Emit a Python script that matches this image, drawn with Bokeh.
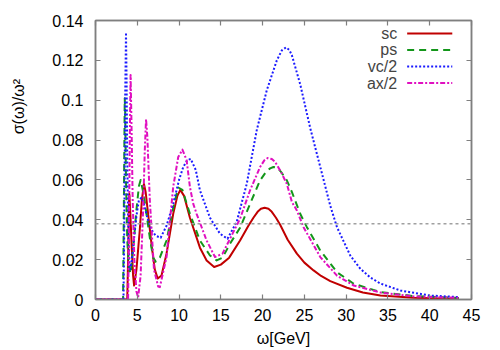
from bokeh.plotting import figure
from bokeh.models import LinearAxis, FixedTicker, Span, Label, Range1d
from bokeh.embed import file_html
from bokeh.resources import INLINE

# ---------------- data ----------------
sc_w = [0, 3.8, 3.9, 4.0, 4.05, 4.15, 4.35, 4.5, 4.62, 4.9, 5.3, 5.55, 5.8, 6.0,
        6.35, 6.75, 7.1, 7.45, 7.9, 8.5, 9.3, 9.8, 10.15, 10.6, 11.3, 12.5, 13.3,
        14.2, 15.0, 16.0, 17.3, 18.3, 18.9, 19.4, 19.8, 20.25, 20.7, 21.1, 21.6,
        22.1, 23.0, 24.1, 25.0, 26.1, 27.0, 28.1, 30.1, 32.0, 34.1, 38.1, 43.5]
sc_v = [0, 0, 0.02, 0.048, 0.053, 0.045, 0.025, 0.012, 0.007, 0.015, 0.035, 0.050,
        0.058, 0.054, 0.041, 0.026, 0.015, 0.0105, 0.012, 0.023, 0.043, 0.052,
        0.055, 0.052, 0.041, 0.026, 0.0196, 0.0163, 0.0175, 0.021, 0.0296, 0.037,
        0.041, 0.0440, 0.0455, 0.046, 0.0455, 0.0440, 0.0410, 0.0375, 0.030,
        0.023, 0.0185, 0.0146, 0.0118, 0.0092, 0.0059, 0.0035, 0.002, 0.0009,
        0.0003]

ps_w = [0, 3.3, 3.4, 3.5, 3.55, 3.65, 3.8, 4.0, 4.2, 4.5, 4.9, 5.2, 5.4, 5.75,
        6.1, 6.5, 6.9, 7.2, 7.7, 8.5, 9.3, 9.9, 10.4, 11.3, 12.5, 13.7, 14.5,
        15.2, 16.1, 17.3, 18.5, 19.7, 20.4, 20.9, 21.3, 21.8, 22.3, 22.9, 23.5,
        24.5, 25.3, 26.9, 28.9, 30.9, 34.1, 38.1, 43.5]
ps_v = [0, 0, 0.05, 0.101, 0.095, 0.06, 0.03, 0.016, 0.013, 0.025, 0.045, 0.057,
        0.060, 0.053, 0.043, 0.031, 0.021, 0.019, 0.021, 0.0296, 0.046, 0.0562,
        0.055, 0.043, 0.0296, 0.0221, 0.0196, 0.021, 0.028, 0.036, 0.048, 0.0598,
        0.0640, 0.0658, 0.0665, 0.0660, 0.0635, 0.0598, 0.054, 0.043, 0.0363,
        0.0246, 0.0137, 0.0079, 0.0037, 0.0017, 0.0008]

vc_w = [0, 3.35, 3.45, 3.55, 3.65, 3.72, 3.8, 3.95, 4.1, 4.3, 4.6, 4.9, 5.2, 5.5,
        5.8, 6.2, 6.7, 7.2, 7.8, 8.5, 9.3, 10.0, 10.5, 11.0, 11.4, 12.0, 12.5,
        13.7, 14.9, 15.8, 16.9, 18.1, 19.3, 20.5, 21.7, 22.3, 22.8, 23.2, 23.5,
        24.5, 25.7, 26.9, 28.1, 28.9, 30.5, 31.7, 32.9, 34.1, 36.5, 40.0, 43.5]
vc_v = [0, 0, 0.04, 0.10, 0.134, 0.11, 0.07, 0.03, 0.015, 0.018, 0.030, 0.042,
        0.050, 0.051, 0.048, 0.041, 0.035, 0.032, 0.031, 0.037, 0.048, 0.060,
        0.0665, 0.0700, 0.0705, 0.065, 0.0548, 0.041, 0.033, 0.0305, 0.039,
        0.058, 0.085, 0.105, 0.120, 0.1250, 0.1265, 0.1252, 0.1226, 0.108,
        0.086, 0.0665, 0.047, 0.0363, 0.022, 0.0154, 0.011, 0.008, 0.0045,
        0.002, 0.0012]

ax_w = [0, 3.9, 4.0, 4.1, 4.2, 4.3, 4.45, 4.65, 4.9, 5.1, 5.4, 5.7, 5.9, 6.05,
        6.2, 6.5, 7.0, 7.5, 7.7, 8.5, 9.3, 9.9, 10.4, 10.9, 11.3, 11.7, 12.1,
        13.3, 14.3, 15.2, 16.1, 17.3, 18.5, 19.7, 20.2, 20.6, 21.1, 21.5, 22.2,
        22.9, 23.5, 24.1, 24.9, 26.9, 28.9, 30.9, 34.1, 38.1, 43.5]
ax_v = [0, 0, 0.03, 0.08, 0.1126, 0.09, 0.05, 0.02, 0.004, 0.001, 0.012, 0.045,
        0.075, 0.0905, 0.082, 0.05, 0.015, 0.0065, 0.0062, 0.0213, 0.0565, 0.0715,
        0.0752, 0.070, 0.0565, 0.048, 0.043, 0.0296, 0.0213, 0.023, 0.0305, 0.0405,
        0.0548, 0.0665, 0.0698, 0.0710, 0.0705, 0.0690, 0.0640, 0.058, 0.049,
        0.0447, 0.0363, 0.0213, 0.012, 0.007, 0.0035, 0.0015, 0.0008]

threshold = 0.038

series_names = ["sc", "ps", "vc/2", "ax/2"]
x_ticks = [0, 5, 10, 15, 20, 25, 30, 35, 40, 45]
x_tick_labels = ["0", "5", "10", "15", "20", "25", "30", "35", "40", "45"]
y_ticks = [0, 0.02, 0.04, 0.06, 0.08, 0.1, 0.12, 0.14]
y_tick_labels = ["0", "0.02", "0.04", "0.06", "0.08", "0.1", "0.12", "0.14"]
x_title = "ω[GeV]"
y_title = "σ(ω)/ω²"

# ---------------- styles ----------------
FONT = "Liberation Sans"
FS = "16px"
styles = [
    dict(color="#c00000", dash="solid"),
    dict(color="#13961a", dash="7 5"),
    dict(color="#1a1aff", dash="2 2"),
    dict(color="#e010c0", dash="5 2 2 2"),
]
FRAME_COLOR = "#7f7f7f"
YLABEL_SHIFT = "\u00a0" * 24   # pushes the rotated y title up, like the reference

p = figure(width=500, height=350, output_backend="svg", toolbar_location=None,
           x_range=Range1d(0, 45), y_range=Range1d(0, 0.14),
           min_border_left=95, min_border_right=29, min_border_top=20,
           min_border_bottom=51, x_axis_label=x_title,
           y_axis_label=YLABEL_SHIFT + y_title)
p.background_fill_color = "white"
p.border_fill_color = "white"
p.outline_line_color = FRAME_COLOR
p.outline_line_width = 1.5
p.xgrid.visible = False
p.ygrid.visible = False

def style_axis(ax, ticks, labels, show_labels):
    ax.ticker = FixedTicker(ticks=ticks)
    ax.major_label_overrides = {t: (l if show_labels else "") for t, l in zip(ticks, labels)}
    ax.major_tick_in = 5
    ax.major_tick_out = 0
    ax.minor_tick_line_color = None
    ax.major_tick_line_color = FRAME_COLOR
    ax.major_tick_line_width = 1.2
    ax.axis_line_color = FRAME_COLOR
    ax.axis_line_width = 1.5
    ax.major_label_text_font = FONT
    ax.major_label_text_font_size = FS
    ax.major_label_text_color = "black"
    ax.axis_label_text_font = FONT
    ax.axis_label_text_font_size = FS
    ax.axis_label_text_font_style = "normal"
    ax.axis_label_text_color = "black"

style_axis(p.xaxis[0], x_ticks, x_tick_labels, True)
style_axis(p.yaxis[0], y_ticks, y_tick_labels, True)
p.xaxis[0].major_label_standoff = 9
p.yaxis[0].major_label_standoff = 12
p.xaxis[0].axis_label_standoff = 6
p.yaxis[0].axis_label_standoff = 22

top = LinearAxis()
right = LinearAxis()
style_axis(top, x_ticks, x_tick_labels, False)
style_axis(right, y_ticks, y_tick_labels, False)
top.major_label_standoff = 0
right.major_label_standoff = 0
p.add_layout(top, "above")
p.add_layout(right, "right")

# reference level
p.add_layout(Span(location=threshold, dimension="width", line_color="#a0a0a0",
                  line_dash="3 3", line_width=1.5))

data = [(sc_w, sc_v), (ps_w, ps_v), (vc_w, vc_v), (ax_w, ax_v)]
for (w, v), st in zip(data, styles):
    p.line(w, v, line_color=st["color"], line_width=2, line_dash=st["dash"],
           line_join="round")

# gnuplot-style key: label right-aligned, sample line after it
KEY_TEXT_X = 36.1
KEY_LINE_X0, KEY_LINE_X1 = 37.3, 42.7
KEY_Y0, KEY_DY = 0.1335, 0.0083
for i, (name, st) in enumerate(zip(series_names, styles)):
    ky = KEY_Y0 - i * KEY_DY
    p.add_layout(Label(x=KEY_TEXT_X, y=ky, text=name, text_font=FONT,
                       text_font_size=FS, text_align="right",
                       text_baseline="middle"))
    p.segment(x0=[KEY_LINE_X0], y0=[ky], x1=[KEY_LINE_X1], y1=[ky],
              line_color=st["color"], line_width=2, line_dash=st["dash"])

open("out.html", "w").write(file_html(p, INLINE))
